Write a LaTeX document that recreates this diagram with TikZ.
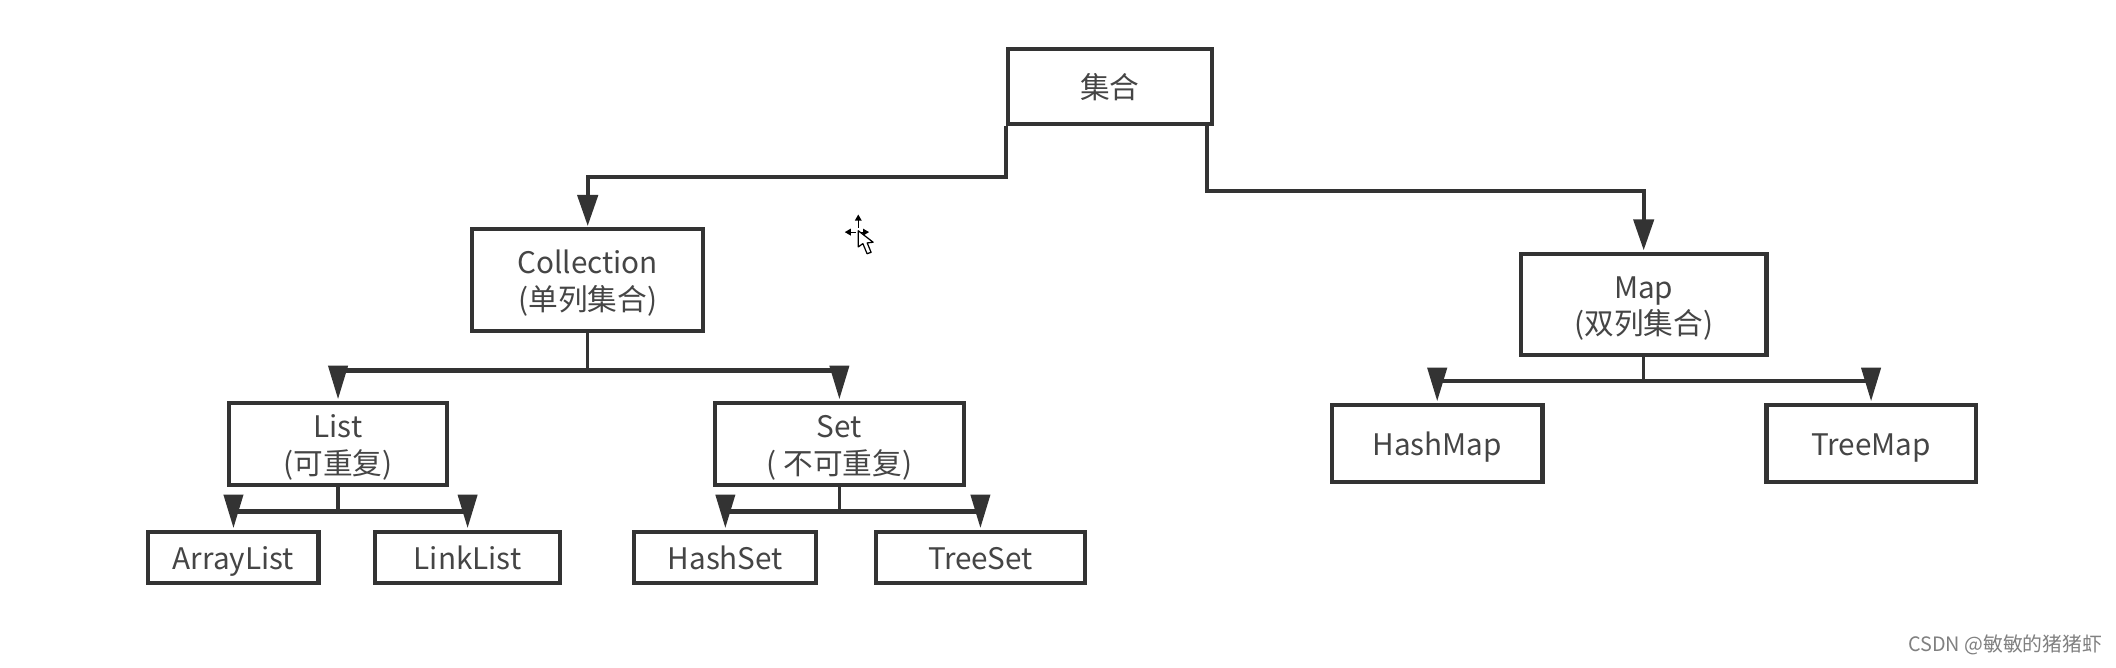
\documentclass[tikz,border=0pt]{standalone}
\usepackage{fontspec}
\setmainfont{Noto Sans CJK SC}
\usetikzlibrary{arrows.meta,calc}
\definecolor{ink}{HTML}{333333}
\definecolor{txt}{HTML}{454545}
\tikzset{
  box/.style={draw=ink,line width=3pt,fill=white,inner sep=0pt},
  conn/.style={draw=ink,line width=2.9pt,-{Triangle[length=23pt,width=15pt]},shorten >=1pt},
  bus/.style={draw=ink,line width=3.2pt,-{Triangle[length=25pt,width=14pt]},shorten >=1pt},
  stem/.style={draw=ink,line width=2.4pt},
}
\newsavebox{\lowbox}
% text set lower than the middle of its box, as in the reference
\newcommand{\lowtext}[1]{%
  \sbox{\lowbox}{\fontsize{22}{27}\selectfont\color{txt}\begin{tabular}{@{}c@{}}#1\end{tabular}}%
  \raisebox{0pt}[\dimexpr\ht\lowbox+7pt\relax][\dp\lowbox]{\usebox{\lowbox}}}
\newcommand{\bx}[6]{% name, left, top, right, bottom, text
  \node[box,minimum width=#4-#2,minimum height=#5-#3] (#1) at ({(#2+#4)/2},{(#3+#5)/2}) {\lowtext{#6}};}
\begin{document}
\begin{tikzpicture}[x=1pt,y=-1pt]
\useasboundingbox (0,0) rectangle (1568,494.3);
\bx{top}{747}{36}{898}{92}{集合}
\bx{coll}{350}{170}{521}{245}{Collection\\(单列集合)}
\bx{map}{1127}{188}{1309}{263}{Map\\(双列集合)}
\bx{list}{170}{300}{331}{358}{List\\(可重复)}
\bx{set}{530}{300}{714}{358}{Set\\( 不可重复)}
\bx{al}{110}{394}{236}{432}{ArrayList}
\bx{ll}{278}{394}{415}{432}{LinkList}
\bx{hs}{470}{394}{605}{432}{HashSet}
\bx{ts}{649}{394}{804}{432}{TreeSet}
\bx{hm}{987}{300}{1143}{357}{HashMap}
\bx{tm}{1309}{300}{1464}{357}{TreeMap}
% free-end helpers
\coordinate (topL) at (top.south west);
\coordinate (topR) at ([xshift=-5pt]top.south east);
\coordinate (jc) at ($(coll.south)+(0,28)$);
\coordinate (jm) at ($(map.south)+(0,18)$);
\coordinate (jl) at ($(list.south)+(0,18)$);
\coordinate (js) at ($(set.south)+(0,18)$);
% top level
\draw[conn] (topL) |- ($(topL)+(-155,38)$) -| (coll.north);
\draw[conn] (topR) |- ($(topR)+(160,48)$) -| (map.north);
% Collection
\draw[stem] (coll.south) -- (jc);
\draw[bus] (jc) -| (list.north);
\draw[bus] (jc) -| (set.north);
% List
\draw[stem] (list.south) -- (jl);
\draw[bus] (jl) -| (al.north);
\draw[bus] (jl) -| (ll.north);
% Set
\draw[stem] (set.south) -- (js);
\draw[bus] (js) -| (hs.north);
\draw[bus] (js) -| (ts.north);
% Map
\draw[stem] (map.south) -- (jm);
\draw[bus] (jm) -| (hm.north);
\draw[bus] (jm) -| (tm.north);
% pointer
\begin{scope}[shift={(636,172)}]
  \fill[black] (0,-13) -- (-2.6,-8.5) -- (2.6,-8.5) -- cycle;
  \fill[black] (-10,0) -- (-5.5,-2.6) -- (-5.5,2.6) -- cycle;
  \fill[black] (8,0) -- (3.5,-2.6) -- (3.5,2.6) -- cycle;
  \draw[black,line width=.8pt] (0,-9) -- (0,-3) (-6,0) -- (-2,0) (0,0) -- (4,0);
  \draw[black,line width=.9pt,fill=white,line join=round] (0,-1) -- (0,11) -- (3.4,8.5) -- (6.5,16) -- (9.5,15) -- (6.6,8) -- (11,7.5) -- cycle;
\end{scope}
% watermark
\node[anchor=east,text=black!50,inner sep=0pt,font=\fontsize{14.7}{17}\selectfont] (wm) at (1558,478) {CSDN @敏敏的猪猪虾};
\end{tikzpicture}
\end{document}
